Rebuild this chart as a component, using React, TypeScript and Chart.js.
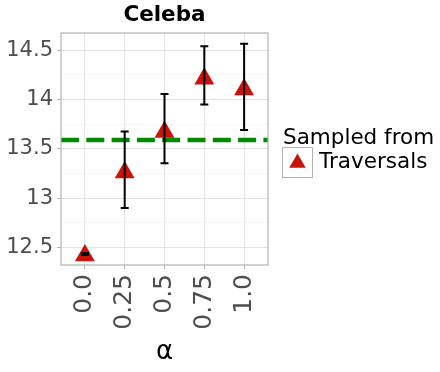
import React, { useEffect, useRef } from 'react';
import { Chart, registerables } from 'chart.js';

Chart.register(...registerables);

const categories = ['0.0', '0.25', '0.5', '0.75', '1.0'];
const means = [12.42, 13.26, 13.67, 14.21, 14.1];
const lowers = [12.425, 12.9, 13.355, 13.95, 13.69];
const uppers = [12.445, 13.675, 14.055, 14.54, 14.565];
const baseline = 13.59;
const yMajorTicks = [12.5, 13, 13.5, 14, 14.5];
const yMinorTicks = [12.75, 13.25, 13.75, 14.25];
const titleText = 'Celeba';
const legendTitle = 'Sampled from';
const seriesName = 'Traversals';
const xTitle = 'α';

const FONT = "'DejaVu Sans', sans-serif";
const RED = '#C8140A';
const GREEN = '#008A00';
const BORDER = '#B3B3B3';
const GRID_MAJOR = '#E3E3E3';
const GRID_MINOR = '#EFEFEF';

const extrasPlugin = {
  id: 'extras',
  afterDatasetsDraw(chart: any) {
    const { ctx, chartArea, scales } = chart;
    const x = scales.x;
    const y = scales.y;
    ctx.save();
    // error bars
    ctx.strokeStyle = '#000000';
    ctx.lineWidth = 2;
    means.forEach((_, i) => {
      const px = x.getPixelForValue(i);
      const top = y.getPixelForValue(uppers[i]);
      const bot = y.getPixelForValue(lowers[i]);
      ctx.beginPath();
      ctx.moveTo(px, top);
      ctx.lineTo(px, bot);
      ctx.moveTo(px - 4, top);
      ctx.lineTo(px + 4, top);
      ctx.moveTo(px - 4, bot);
      ctx.lineTo(px + 4, bot);
      ctx.stroke();
    });
    // panel border
    ctx.strokeStyle = BORDER;
    ctx.lineWidth = 1.2;
    ctx.strokeRect(chartArea.left, chartArea.top, chartArea.right - chartArea.left, chartArea.bottom - chartArea.top);
    ctx.restore();
  },
  afterDraw(chart: any) {
    const { ctx, chartArea } = chart;
    ctx.save();
    // title
    ctx.fillStyle = '#000000';
    ctx.font = `bold 21.5px ${FONT}`;
    ctx.textAlign = 'center';
    ctx.textBaseline = 'alphabetic';
    ctx.fillText(titleText, (chartArea.left + chartArea.right) / 2, 21);
    // legend
    const ds = chart.data.datasets[0];
    ctx.font = `21.5px ${FONT}`;
    ctx.textAlign = 'left';
    ctx.fillText(legendTitle, 283, 144);
    ctx.strokeStyle = BORDER;
    ctx.lineWidth = 1;
    ctx.strokeRect(282.5, 147.5, 30, 30);
    ctx.fillStyle = ds.backgroundColor;
    const r = 9.5;
    const cx = 297.5;
    const cy = 163;
    ctx.beginPath();
    ctx.moveTo(cx, cy - r);
    ctx.lineTo(cx + r * Math.sin((2 * Math.PI) / 3), cy - r * Math.cos((2 * Math.PI) / 3));
    ctx.lineTo(cx + r * Math.sin((4 * Math.PI) / 3), cy - r * Math.cos((4 * Math.PI) / 3));
    ctx.closePath();
    ctx.fill();
    ctx.fillStyle = '#000000';
    ctx.fillText(ds.label, 319, 168);
    ctx.restore();
  },
};

export default function App() {
  const ref = useRef<HTMLCanvasElement>(null);
  useEffect(() => {
    if (!ref.current) return;
    const allY = [...yMajorTicks, ...yMinorTicks].sort((a, b) => a - b);
    const chart = new Chart(ref.current, {
      type: 'scatter',
      data: {
        datasets: [
          {
            label: seriesName,
            data: means.map((v, i) => ({ x: i, y: v })),
            backgroundColor: RED,
            borderColor: RED,
            borderWidth: 0,
            pointStyle: 'triangle',
            pointRadius: 11.5,
            pointHoverRadius: 11.5,
          } as any,
          {
            type: 'line',
            label: 'baseline',
            data: [
              { x: -0.6, y: baseline },
              { x: categories.length - 0.4, y: baseline },
            ],
            borderColor: GREEN,
            borderWidth: 4.5,
            borderDash: [18, 7.3],
            pointRadius: 0,
            fill: false,
          } as any,
        ],
      },
      options: {
        animation: false,
        responsive: false,
        events: [],
        layout: { padding: { left: 0, top: 33, right: 172, bottom: 0 } },
        plugins: {
          legend: { display: false },
          title: { display: false },
          tooltip: { enabled: false },
        },
        scales: {
          x: {
            type: 'linear',
            min: -0.6,
            max: categories.length - 0.4,
            afterBuildTicks: (scale: any) => {
              scale.ticks = categories.map((_, i) => ({ value: i }));
            },
            afterFit: (scale: any) => {
              scale.height = 107;
            },
            border: { display: false },
            grid: {
              color: GRID_MAJOR,
              lineWidth: 1,
              tickLength: 4,
              tickColor: BORDER,
            },
            ticks: {
              autoSkip: false,
              maxRotation: 90,
              minRotation: 90,
              padding: 5,
              color: '#4D4D4D',
              font: { family: FONT, size: 25 },
              callback: (v: any) => categories[v as number] ?? '',
            },
            title: {
              display: true,
              text: xTitle,
              color: '#000000',
              font: { family: FONT, size: 26 },
              padding: { top: 0, bottom: 4 },
            },
          },
          y: {
            type: 'linear',
            min: 12.324,
            max: 14.673,
            afterBuildTicks: (scale: any) => {
              scale.ticks = allY.map((v) => ({ value: v }));
            },
            afterFit: (scale: any) => {
              scale.width = 61;
            },
            border: { display: false },
            grid: {
              color: (c: any) => (yMajorTicks.includes(c.tick?.value) ? GRID_MAJOR : GRID_MINOR),
              lineWidth: (c: any) => (yMajorTicks.includes(c.tick?.value) ? 1 : 0.6),
              tickLength: 4,
              tickColor: (c: any) => (yMajorTicks.includes(c.tick?.value) ? BORDER : 'rgba(0,0,0,0)'),
            },
            ticks: {
              autoSkip: false,
              padding: 4,
              color: '#4D4D4D',
              font: { family: FONT, size: 21 },
              callback: (v: any) => (yMajorTicks.includes(v as number) ? String(v) : ''),
            },
          },
        },
      },
      plugins: [extrasPlugin],
    } as any);
    return () => chart.destroy();
  }, []);
  return (
    <div style={{ position: 'absolute', left: 0, top: 0, width: 440, height: 372 }}>
      <canvas ref={ref} width={440} height={372} style={{ width: 440, height: 372 }} />
    </div>
  );
}
